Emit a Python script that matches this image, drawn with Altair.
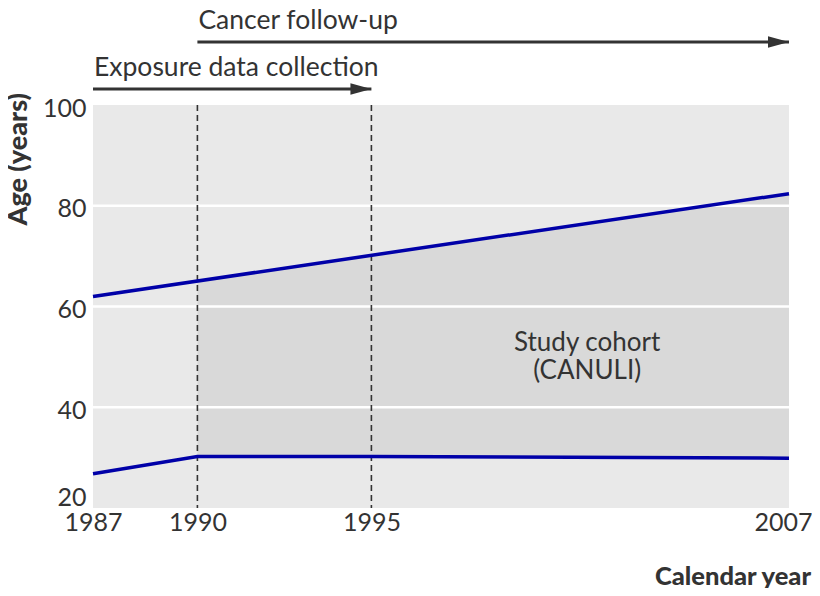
import altair as alt
import pandas as pd

# ---- data ----
upper_years = [1987, 2007]
upper_age = [62.0, 82.4]
lower_years = [1987, 1990, 1995, 2007]
lower_age = [26.8, 30.2, 30.2, 29.9]
cohort_years = [1990, 1995, 2007]
cohort_low = [30.2, 30.2, 29.9]
cohort_high = [65.1, 70.2, 82.4]
grid_ages = [40, 60, 80]
marker_years = [1990, 1995]
x_ticks = [1987, 1990, 1995, 2007]
y_ticks = [20, 40, 60, 80, 100]
arrow_labels = ["Exposure data collection", "Cancer follow-up"]
arrow_start = [1987, 1990]
arrow_end = [1995, 2007]
cohort_label = ["Study cohort", "(CANULI)"]
cohort_label_x = [2001.2, 2001.2]
cohort_label_y = [52.8, 47.1]

FONT = "Lato"
TXT = "#333333"
BLUE = "#0000a8"

lines_df = pd.DataFrame(
    {"year": upper_years + lower_years,
     "age": upper_age + lower_age,
     "series": ["upper"] * len(upper_years) + ["lower"] * len(lower_years)}
)
cohort_df = pd.DataFrame({"year": cohort_years, "low": cohort_low, "high": cohort_high})
grid_df = pd.DataFrame({"age": grid_ages})
marker_df = pd.DataFrame({"year": marker_years})
arrows_df = pd.DataFrame({"label": arrow_labels, "start": arrow_start, "end": arrow_end,
                          "ypix": [-16, -63], "typix": [-29, -76]})
coh_lab_df = pd.DataFrame({"text": cohort_label, "year": cohort_label_x, "age": cohort_label_y})
one = pd.DataFrame({"a": [0]})

xscale = alt.Scale(domain=[1987, 2007], nice=False, zero=False)
yscale = alt.Scale(domain=[20, 100], nice=False, zero=False)

x_axis = alt.Axis(values=x_ticks, format="d", title=None, ticks=False, domain=False, grid=False,
                  labelFontSize=25, labelFont=FONT, labelColor=TXT, labelPadding=2,
                  labelFlush=False,
                  labelOffset=alt.expr("datum.value == 2007 ? -6 : 0"))
y_axis = alt.Axis(values=y_ticks, title=None, ticks=False, domain=False, grid=False,
                  labelFontSize=25, labelFont=FONT, labelColor=TXT, labelPadding=7,
                  labelBaseline=alt.expr("datum.value == 20 ? 'bottom' : 'middle'"),
                  labelOffset=alt.expr("datum.value == 20 ? 2 : 3"))

area = alt.Chart(cohort_df).mark_area(color="#d9d9d9", opacity=1).encode(
    x=alt.X("year:Q", scale=xscale, axis=x_axis),
    y=alt.Y("low:Q", scale=yscale, axis=y_axis),
    y2="high:Q",
)

grid = alt.Chart(grid_df).mark_rule(color="white", strokeWidth=2.5).encode(
    y=alt.Y("age:Q", scale=yscale)
)

markers = alt.Chart(marker_df).mark_rule(color="#333333", strokeWidth=1.6, strokeDash=[6, 4]).encode(
    x=alt.X("year:Q", scale=xscale)
)

lines = alt.Chart(lines_df).mark_line(color=BLUE, strokeWidth=3.5).encode(
    x=alt.X("year:Q", scale=xscale),
    y=alt.Y("age:Q", scale=yscale),
    detail="series:N",
)

arrow_lines = alt.Chart(arrows_df).mark_rule(color="#333333", strokeWidth=3).encode(
    x=alt.X("start:Q", scale=xscale),
    x2=alt.X2("end:Q"),
    y=alt.Y("ypix:Q", scale=None),
)

arrow_heads = alt.Chart(arrows_df).mark_point(
    shape="M -2 -0.55 L 0 0 L -2 0.55 Z", filled=True, color="#333333", size=440, opacity=1,
    strokeWidth=0,
).encode(
    x=alt.X("end:Q", scale=xscale),
    y=alt.Y("ypix:Q", scale=None),
)

arrow_text = alt.Chart(arrows_df).mark_text(
    align="left", baseline="alphabetic", fontSize=26.5, font=FONT, color=TXT, dx=1
).encode(
    x=alt.X("start:Q", scale=xscale),
    y=alt.Y("typix:Q", scale=None),
    text="label:N",
)

cohort_text = alt.Chart(coh_lab_df).mark_text(
    align="center", baseline="middle", fontSize=26, font=FONT, color=TXT
).encode(
    x=alt.X("year:Q", scale=xscale),
    y=alt.Y("age:Q", scale=yscale),
    text="text:N",
)

ytitle = alt.Chart(one).mark_text(
    text="Age (years)", angle=270, align="right", baseline="alphabetic", fontSize=27,
    font=FONT, fontWeight=900, color=TXT
).encode(x=alt.value(-66), y=alt.value(-12))

xtitle = alt.Chart(one).mark_text(
    text="Calendar year", align="right", baseline="middle", fontSize=25.5,
    font=FONT, fontWeight=900, color=TXT
).encode(x=alt.value(718), y=alt.value(472))

chart = alt.layer(
    area, grid, markers, lines, arrow_lines, arrow_heads, arrow_text, cohort_text, ytitle, xtitle
).properties(
    width=696, height=403,
    autosize=alt.AutoSizeParams(type="none"),
    padding={"left": 85, "top": 97, "right": 23, "bottom": 80},
    background="white",
).configure_view(fill="#e9e9e9", stroke=None)

chart.save("out.html", embed_options={"renderer": "svg", "actions": False})
